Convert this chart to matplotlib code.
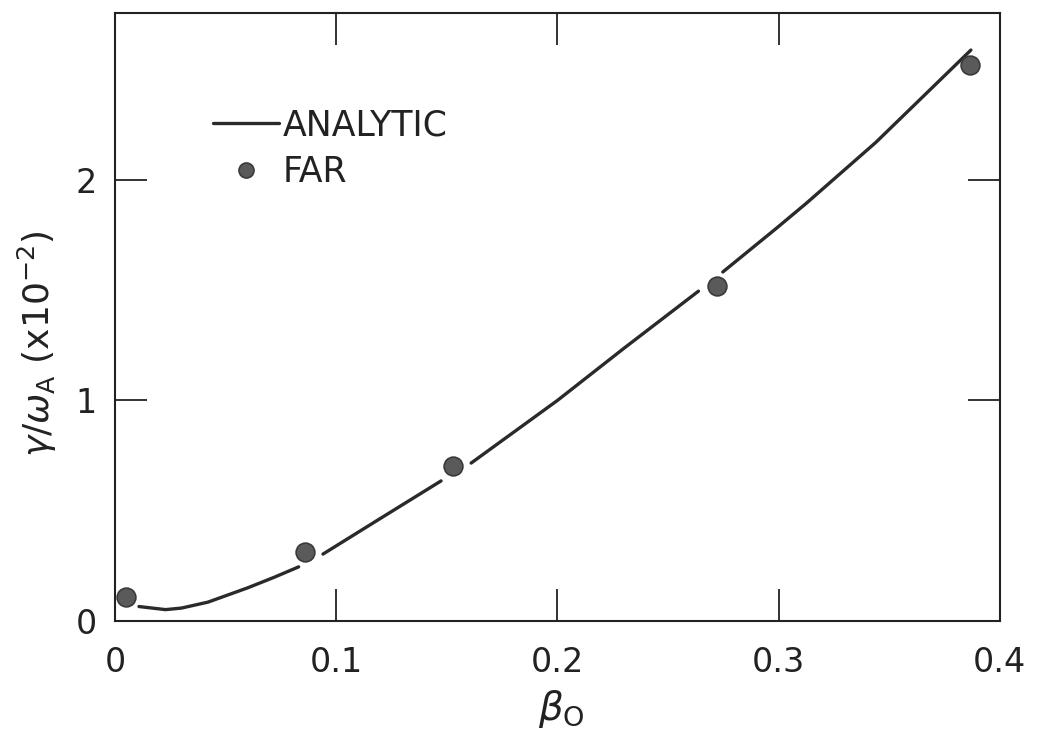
import numpy as np
import matplotlib.pyplot as plt

# analytic curve (nan = break in the drawn line)
beta_curve = [0.0108, 0.0228, 0.030, 0.042, 0.060, 0.072, 0.083, np.nan,
              0.094, 0.120, 0.1474, np.nan,
              0.161, 0.200, 0.230, 0.2638, np.nan,
              0.2748, 0.299, 0.3126, 0.344, 0.387]
gamma_curve = [0.065, 0.051, 0.058, 0.085, 0.150, 0.198, 0.245, np.nan,
               0.303, 0.465, 0.635, np.nan,
               0.716, 1.000, 1.236, 1.496, np.nan,
               1.583, 1.781, 1.895, 2.171, 2.590]

# FAR code results
beta_far = [0.005, 0.086, 0.153, 0.272, 0.3865]
gamma_far = [0.108, 0.311, 0.703, 1.518, 2.52]

xticks = [0, 0.1, 0.2, 0.3, 0.4]
xticklabels = ["0", "0.1", "0.2", "0.3", "0.4"]
yticks = [0, 1, 2]
yticklabels = ["0", "1", "2"]

plt.rcParams['font.family'] = ['DejaVu Sans']

fig = plt.figure(figsize=(10.37, 7.4), dpi=100)
ax = fig.add_axes([0.111, 0.161, 0.853, 0.822])

ax.plot(beta_curve, gamma_curve, color="#2a2a2a", lw=2.4,
        solid_capstyle="round", label="ANALYTIC")
ax.plot(beta_far, gamma_far, linestyle="none", marker="o", ms=13.5,
        mfc="#5a5a5a", mec="#3a3a3a", mew=1.2, label="FAR")

ax.set_xlim(0, 0.4)
ax.set_ylim(0, 2.76)

ax.set_xticks(xticks)
ax.set_xticklabels(xticklabels)
ax.set_yticks(yticks)
ax.set_yticklabels(yticklabels)
ax.tick_params(direction="in", length=23, width=1.3, labelsize=24,
               top=True, right=True, colors="#222222")
ax.tick_params(axis="x", pad=18)
ax.tick_params(axis="y", pad=13)
for s in ax.spines.values():
    s.set_linewidth(1.5)
    s.set_color("#222222")

ax.set_xlabel(r"$\beta_{\rm O}$", fontsize=28, color="#222222")
ax.xaxis.set_label_coords(0.505, -0.11)
ax.set_ylabel(r"$\gamma/\omega_{\rm A}$ (x10$^{-2}$)", fontsize=26,
              color="#222222")
ax.yaxis.set_label_coords(-0.063, 0.455)

leg = ax.legend(loc="upper left", bbox_to_anchor=(0.095, 0.865), frameon=False,
                fontsize=25, handlelength=1.9, handletextpad=0.1,
                labelspacing=0.35, borderaxespad=0, markerscale=0.8)
for t in leg.get_texts():
    t.set_color("#222222")

fig.savefig("out.png", dpi=100)
